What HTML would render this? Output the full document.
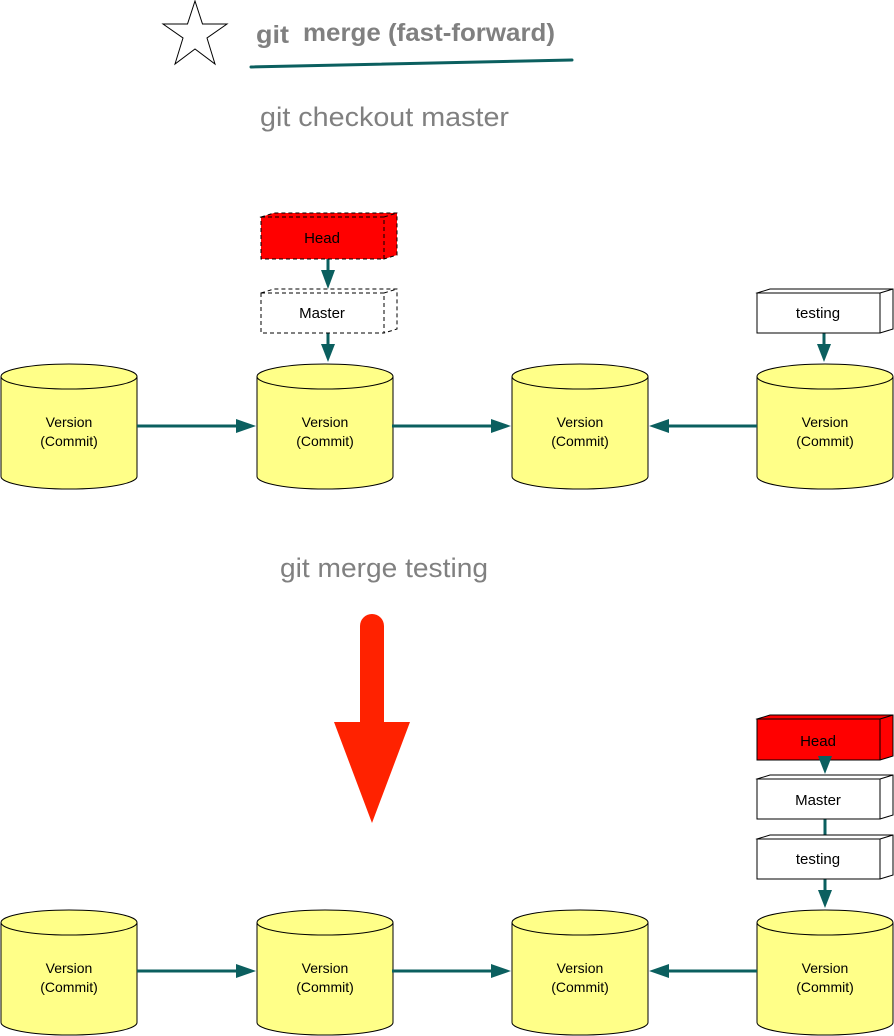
<!DOCTYPE html>
<html><head><meta charset="utf-8"><style>
html,body{margin:0;padding:0;background:#fff;}
svg{display:block;}
text{font-family:"Liberation Sans",Arial,sans-serif;}
</style></head><body>
<svg width="894" height="1036" viewBox="0 0 894 1036" xmlns="http://www.w3.org/2000/svg">
<defs>
<g id="cyl">
<path d="M0,12.5 L0,112.5 A68,12.5 0 0 0 136,112.5 L136,12.5" fill="#ffff88" stroke="#000" stroke-width="1"/>
<ellipse cx="68" cy="12.5" rx="68" ry="12.5" fill="#ffff88" stroke="#000" stroke-width="1"/>
<text x="68" y="63" font-size="14" text-anchor="middle">Version</text>
<text x="68" y="82" font-size="14" text-anchor="middle">(Commit)</text>
</g>
</defs>
<polygon points="195,1 202.5,24 227,24 207,38 215,64 195,49 175,64 183,38 163,24 187.5,24" fill="#fff" stroke="#000" stroke-width="1"/>
<text x="256" y="43" font-size="25" font-weight="bold" fill="#808080" textLength="33" lengthAdjust="spacingAndGlyphs">git</text>
<text x="303" y="41" font-size="25" font-weight="bold" fill="#808080" textLength="252" lengthAdjust="spacingAndGlyphs">merge (fast-forward)</text>
<line x1="251" y1="67" x2="572" y2="60" stroke="#0b5f5f" stroke-width="3" stroke-linecap="round"/>
<text x="260" y="126" font-size="27" fill="#808080" textLength="249" lengthAdjust="spacingAndGlyphs">git checkout master</text>
<text x="280" y="577" font-size="27" fill="#808080" textLength="208" lengthAdjust="spacingAndGlyphs">git merge testing</text>

<use href="#cyl" x="1" y="364"/>
<use href="#cyl" x="257" y="364"/>
<use href="#cyl" x="512" y="364"/>
<use href="#cyl" x="757" y="364"/>
<use href="#cyl" x="1" y="910"/>
<use href="#cyl" x="257" y="910"/>
<use href="#cyl" x="512" y="910"/>
<use href="#cyl" x="757" y="910"/>

<g stroke="#0b5f5f" stroke-width="3" fill="#0b5f5f">
<line x1="137" y1="426" x2="238" y2="426"/><polygon points="236,419 256,426 236,433" stroke="none"/>
<line x1="392" y1="426" x2="493" y2="426"/><polygon points="491,419 511,426 491,433" stroke="none"/>
<line x1="757" y1="426" x2="667" y2="426"/><polygon points="669,419 649,426 669,433" stroke="none"/>
<line x1="137" y1="971" x2="238" y2="971"/><polygon points="236,964 256,971 236,978" stroke="none"/>
<line x1="392" y1="971" x2="493" y2="971"/><polygon points="491,964 511,971 491,978" stroke="none"/>
<line x1="757" y1="971" x2="667" y2="971"/><polygon points="669,964 649,971 669,978" stroke="none"/>
<line x1="328" y1="259" x2="328" y2="272"/><polygon points="321,270 328,289 335,270" stroke="none"/>
<line x1="328" y1="333" x2="328" y2="346"/><polygon points="321,344 328,362 335,344" stroke="none"/>
<line x1="824" y1="333" x2="824" y2="346"/><polygon points="817,344 824,362 831,344" stroke="none"/>
<line x1="825" y1="819" x2="825" y2="836"/>
<line x1="825" y1="879" x2="825" y2="892"/><polygon points="818,890 825,908 832,890" stroke="none"/>
</g>

<g stroke="#000" stroke-width="1" stroke-dasharray="4,3">
<path d="M261,217 L274,213 L397,213 L397,255 L384,259 Z" fill="#ff0000"/>
<rect x="261" y="217" width="123" height="42" fill="#ff0000"/>
<line x1="384" y1="217" x2="397" y2="213"/>
<path d="M261,293 L274,289 L397,289 L397,329 L384,333 Z" fill="#fff"/>
<rect x="261" y="293" width="123" height="40" fill="#fff"/>
<line x1="384" y1="293" x2="397" y2="289"/>
</g>
<text x="322" y="243" font-size="15" text-anchor="middle">Head</text>
<text x="322" y="318" font-size="15" text-anchor="middle">Master</text>

<g stroke="#000" stroke-width="1">
<path d="M757,293 L770,289 L893,289 L893,329 L880,333 Z" fill="#fff"/>
<rect x="757" y="293" width="123" height="40" fill="#fff"/>
<line x1="880" y1="293" x2="893" y2="289"/>
<path d="M757,719 L770,715 L893,715 L893,756 L880,760 Z" fill="#ff0000"/>
<rect x="757" y="719" width="123" height="41" fill="#ff0000"/>
<line x1="880" y1="719" x2="893" y2="715"/>
<path d="M757,779 L770,775 L893,775 L893,815 L880,819 Z" fill="#fff"/>
<rect x="757" y="779" width="123" height="40" fill="#fff"/>
<line x1="880" y1="779" x2="893" y2="775"/>
<path d="M757,839 L770,835 L893,835 L893,875 L880,879 Z" fill="#fff"/>
<rect x="757" y="839" width="123" height="40" fill="#fff"/>
<line x1="880" y1="839" x2="893" y2="835"/>
</g>
<polygon points="818,756 825,774 832,756" fill="#0b5f5f"/>
<text x="818" y="318" font-size="15" text-anchor="middle">testing</text>
<text x="818" y="746" font-size="15" text-anchor="middle">Head</text>
<text x="818" y="805" font-size="15" text-anchor="middle">Master</text>
<text x="818" y="864" font-size="15" text-anchor="middle">testing</text>

<path d="M360,626 A12,12 0 0 1 384,626 L384,722 L410,722 L372,823 L334,722 L360,722 Z" fill="#ff2200"/>
</svg>
</body></html>
